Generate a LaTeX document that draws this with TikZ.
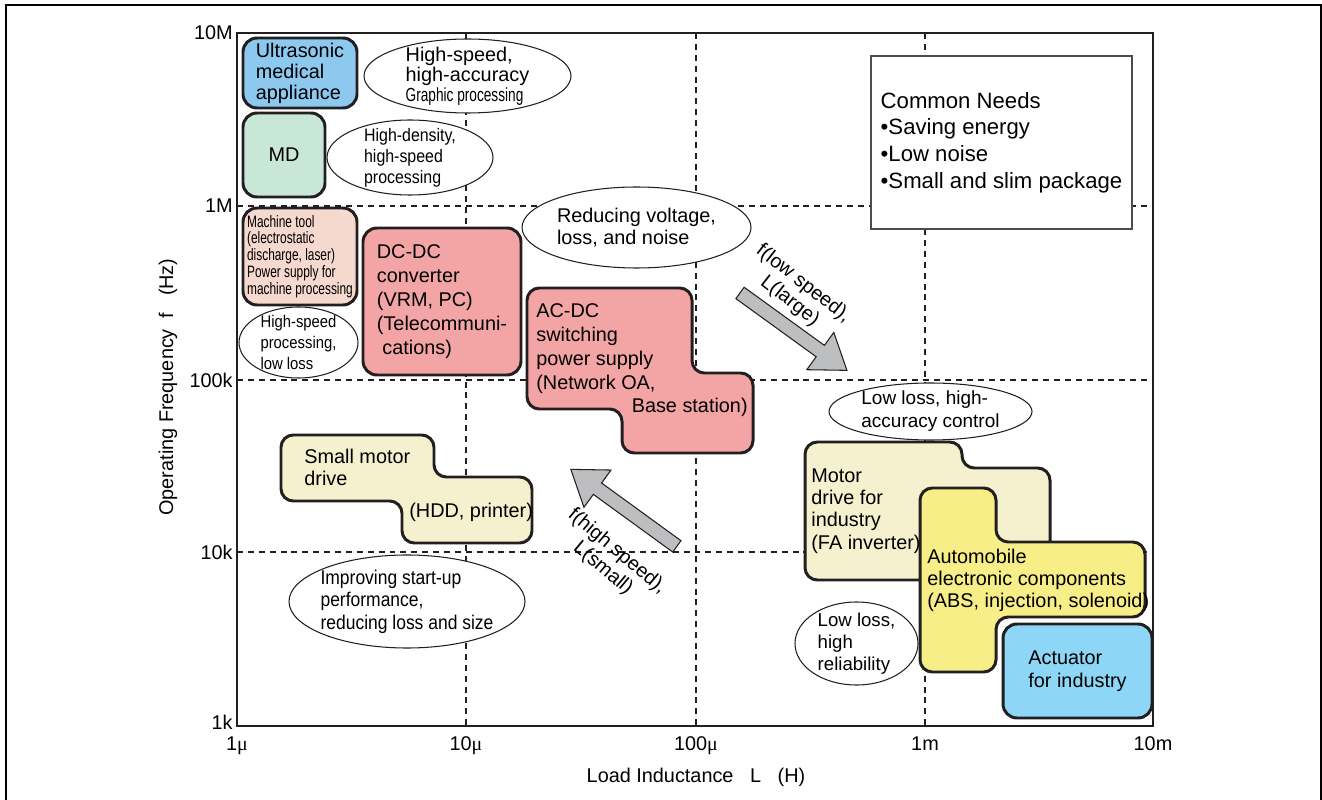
\documentclass[tikz,border=0pt]{standalone}
\usepackage{fontspec}
\setmainfont{Liberation Sans}
\newfontfamily\narrowsf[FakeStretch=0.88]{Liberation Sans}
\newfontfamily\condsf[FakeStretch=0.72]{Liberation Sans}
\newfontfamily\greeksf{Liberation Serif}
\usepackage{tikz}
\usetikzlibrary{positioning,shapes.geometric,shapes.arrows}

\definecolor{edge}{HTML}{231F20}
\definecolor{usblue}{HTML}{8DC9EF}
\definecolor{actblue}{HTML}{8DD6F5}
\definecolor{mdgreen}{HTML}{C9E7D6}
\definecolor{mtpink}{HTML}{F5D9CF}
\definecolor{pwred}{HTML}{F3A5A6}
\definecolor{mocream}{HTML}{F5F0CD}
\definecolor{autoyellow}{HTML}{F8EE87}
\definecolor{arrowgray}{HTML}{BCBEC0}

\begin{document}
\begin{tikzpicture}[x=0.02cm, y=-0.02cm,
    wh/.style 2 args={minimum width=#1*0.02cm, minimum height=#2*0.02cm}]
    \tikzstyle{main}=[font=\fontsize{11.3}{12.5}\selectfont]
    \tikzstyle{blob}=[draw=edge, line width=1.7pt, rounded corners=7pt]
    \tikzstyle{box}=[blob, main, inner sep=0pt, align=left, rounded corners=8pt]
    \tikzstyle{ell}=[ellipse, draw=edge, line width=0.6pt, fill=white, inner sep=0pt]
    \tikzstyle{txt}=[main, inner sep=0pt, align=left]
    \tikzstyle{gridline}=[edge, line width=0.6pt, dash pattern=on 3.4pt off 2.8pt]
    \tikzstyle{bigarrow}=[single arrow, draw=edge, line width=0.6pt, fill=arrowgray, inner xsep=0pt, inner ysep=0.13cm, single arrow head extend=0.32cm, single arrow tip angle=70]

    \useasboundingbox (0,0) rectangle (1322,800);
    \draw[black, line width=1.15pt] (6,800) -- (6,5) -- (1321,5) -- (1321,800);

    % grid and axes
    \draw[gridline] (466,33) -- (466,726);
    \draw[gridline] (696,33) -- (696,726);
    \draw[gridline] (925,33) -- (925,726);
    \draw[gridline] (237,206) -- (1153,206);
    \draw[gridline] (237,380) -- (1153,380);
    \draw[gridline] (237,552) -- (1153,552);
    \draw[edge, line width=0.85pt] (237,33) rectangle (1153,726);

    \node[txt, anchor=east] (f10M) at (233,33) {10M};
    \node[txt, anchor=east] (f1M) at (233,206) {1M};
    \node[txt, anchor=east] (f100k) at (233,380) {100k};
    \node[txt, anchor=east] (f10k) at (233,552) {10k};
    \node[txt, anchor=east] (f1k) at (233,722) {1k};
    \node[txt, anchor=base] (l1u) at (237,750) {1{\greeksf μ}};
    \node[txt, anchor=base] (l10u) at (466,750) {10{\greeksf μ}};
    \node[txt, anchor=base] (l100u) at (696,750) {100{\greeksf μ}};
    \node[txt, anchor=base] (l1m) at (925,750) {1m};
    \node[txt, anchor=base] (l10m) at (1153,750) {10m};
    \node[txt, rotate=90] (ylab) at (168,387) {Operating Frequency~~f~~~(Hz)};
    \node[txt] (xlab) [below=0.36cm of l100u.base] {Load Inductance~~~L~~~(H)};

    % boxes
    \node[box, fill=usblue, wh={114}{70}, font=\fontsize{11.3}{11.9}\selectfont] (ultra) at (300,73) {Ultrasonic\\medical\\appliance};
    \node[box, fill=mdgreen, wh={82}{84}] (md) at (284,155) {MD};
    \node[box, fill=mtpink, wh={114}{97}, font=\condsf\fontsize{9.4}{9.6}\selectfont] (mtool) at (300,256.5) {Machine tool\\(electrostatic\\discharge, laser)\\Power supply for\\machine processing};
    \node[box, fill=pwred, wh={158}{147}, font=\fontsize{11.3}{13.6}\selectfont] (dcdc) at (442,301.5) {DC-DC\\converter\\(VRM, PC)\\(Telecommuni-\\\ cations)};
    \node[box, fill=actblue, wh={149}{94}, font=\fontsize{11.3}{13}\selectfont] (actu) at (1077.5,671) {Actuator\\for industry};
    \node[draw=edge!80, line width=0.6pt, fill=white, wh={261}{173}, inner sep=0pt, align=left, font=\fontsize{12.6}{15.1}\selectfont] (needs) at (1001.5,142.5) {Common Needs\\•Saving energy\\•Low noise\\•Small and slim package};

    \draw[blob, fill=pwred] (527,288) -- (692,288) -- (692,373) -- (753,373) -- (753,453) -- (622,453) -- (622,409) -- (527,409) -- cycle;
    \node[txt, anchor=north west, font=\fontsize{11.3}{13.6}\selectfont] (acdc) at (536,303.7) {AC-DC\\switching\\power supply\\(Network OA,};
    \node[txt, anchor=base east] (acdcb) at (748,413) {Base station)};

    \draw[blob, fill=mocream] (281,435) -- (434,435) -- (434,477) -- (532,477) -- (532,543) -- (402,543) -- (402,501) -- (281,501) -- cycle;
    \node[txt, anchor=north west] (smotor) at (304,448.4) {Small motor\\drive};
    \node[txt, anchor=base west] (smotorb) at (409,517) {(HDD, printer)};

    \draw[blob, fill=mocream] (805,442) -- (962,442) -- (962,468) -- (1050,468) -- (1050,580) -- (805,580) -- cycle;
    \node[txt, anchor=north west, font=\fontsize{11.3}{12.6}\selectfont] (imotor) at (811,468.7) {Motor\\drive for\\industry\\(FA inverter)};

    \draw[blob, fill=autoyellow] (920,488) -- (996,488) -- (996,542) -- (1145,542) -- (1145,617) -- (996,617) -- (996,672) -- (920,672) -- cycle;
    \node[txt, anchor=north west] (auto) at (927,548.4) {Automobile\\electronic components\\(ABS, injection, solenoid)};

    % ellipses
    \node[ell, wh={207}{74}] (hsacc) at (467.5,76) {};
    \node[txt, font=\fontsize{11.3}{11.3}\selectfont] (hsacct) at (hsacc) {High-speed,\\high-accuracy\\{\condsf\fontsize{10.8}{11}\selectfont Graphic processing}};
    \node[ell, wh={166}{75}] (hdens) at (410,157.5) {};
    \node[txt, font=\narrowsf\fontsize{10.3}{11.9}\selectfont] (hdenst) at (hdens) {High-density,\\high-speed\\processing};
    \node[ell, wh={119}{71}] (hsloss) at (298.5,342.5) {};
    \node[txt, font=\narrowsf\fontsize{9.6}{11.9}\selectfont] (hslosst) at (hsloss) {High-speed\\processing,\\low loss};
    \node[ell, wh={229}{81}] (redv) at (636.5,227.5) {};
    \node[txt] (redvt) at (redv) {Reducing voltage,\\loss, and noise};
    \node[ell, wh={203}{57}] (llacc) at (930.5,411.5) {};
    \node[txt, font=\fontsize{10.8}{13}\selectfont] (llacct) at (llacc) {Low loss, high-\\accuracy control};
    \node[ell, wh={123}{83}] (llrel) at (856.5,643.5) {};
    \node[txt, font=\fontsize{10.6}{12.5}\selectfont] (llrelt) at (llrel) {Low loss,\\high\\reliability};
    \node[ell, wh={236}{93}] (impr) at (407,601.5) {};
    \node[txt, font=\narrowsf\fontsize{11.3}{12.8}\selectfont] (imprt) at (impr) {Improving start-up\\performance,\\reducing loss and size};

    % trend arrows
    \node[bigarrow, minimum height=132*0.02cm, rotate=-35.9] (downarrow) at (789.4,328.7) {};
    \node[txt, align=center, rotate=-38] (downlab) at (796.5,292.5) {f(low speed),\\L(large)};
    \node[bigarrow, minimum height=131*0.02cm, rotate=144] (uparrow) at (627.9,510.8) {};
    \node[txt, align=center, rotate=-40] (uplab) at (610,560) {f(high speed),\\L(small)};
\end{tikzpicture}
\end{document}
